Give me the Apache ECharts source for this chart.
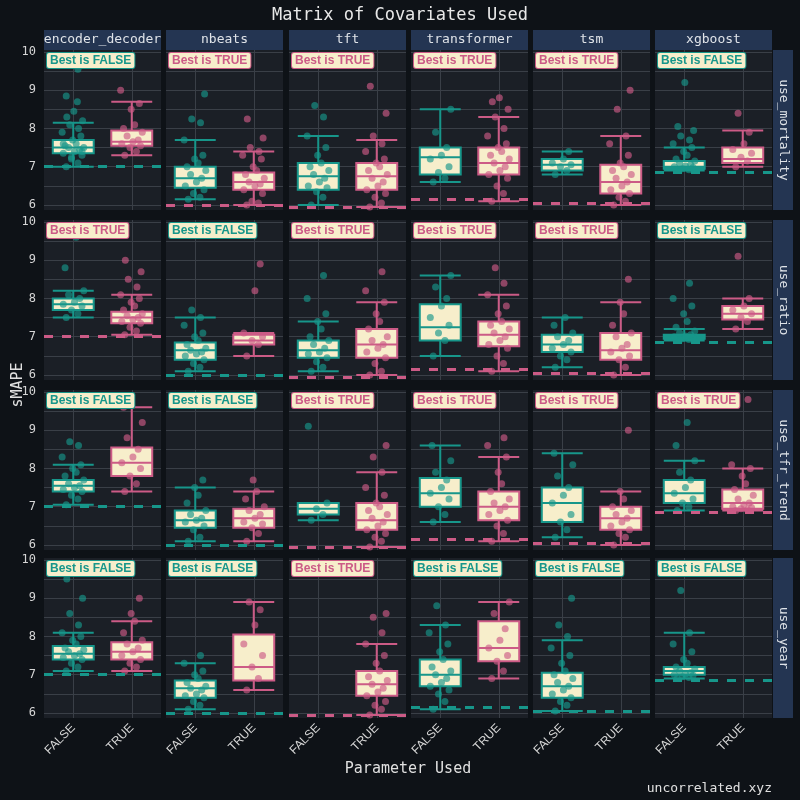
<!DOCTYPE html>
<html>
<head>
<meta charset="utf-8">
<script src="https://cdn.jsdelivr.net/npm/echarts@6/dist/echarts.min.js"></script>
<style>html,body{margin:0;background:#0e1217;}#main{width:800px;height:800px;}</style>
</head>
<body>
<div id="main"></div>
<script>
var models = ['encoder_decoder','nbeats','tft','transformer','tsm','xgboost'];
var covariates = ['use_mortality','use_ratio','use_tfr_trend','use_year'];
var groups = ['FALSE','TRUE'];
var baselines = [7.0, 6.0, 5.95, 6.15, 6.05, 6.85];
var bestIs = [
  [false,true,true,true,true,false],
  [true,false,true,true,true,false],
  [false,false,true,true,true,true],
  [false,false,true,false,false,false]
];
// box stats [min, q1, median, q3, max] for FALSE / TRUE
var boxes = [
  [[[7.0,7.35,7.5,7.7,8.15],[7.3,7.55,7.65,7.95,8.7]],
   [[6.15,6.45,6.7,7.0,7.7],[6.0,6.4,6.6,6.85,7.4]],
   [[6.0,6.4,6.75,7.1,7.8],[5.95,6.4,6.75,7.1,7.7]],
   [[6.6,6.8,7.25,7.5,8.5],[6.1,6.8,7.1,7.5,8.3]],
   [[6.8,6.9,7.05,7.2,7.4],[6.0,6.3,6.6,7.05,7.8]],
   [[6.9,6.95,7.0,7.15,7.5],[7.0,7.1,7.2,7.5,7.95]]],
  [[[7.5,7.7,7.85,8.0,8.2],[7.05,7.35,7.5,7.65,8.1]],
   [[6.1,6.4,6.65,6.85,7.5],[6.5,6.8,6.9,7.05,7.1]],
   [[6.1,6.45,6.65,6.9,7.4],[6.0,6.45,6.8,7.2,7.9]],
   [[6.5,6.9,7.25,7.85,8.6],[6.1,6.75,7.05,7.4,8.1]],
   [[6.2,6.6,6.8,7.05,7.5],[6.0,6.4,6.65,7.1,7.9]],
   [[6.9,6.95,7.0,7.05,7.2],[7.2,7.45,7.6,7.8,8.0]]],
  [[[7.05,7.4,7.55,7.7,8.1],[7.4,7.8,8.15,8.55,9.6]],
   [[6.1,6.45,6.65,6.9,7.5],[6.1,6.45,6.7,6.95,7.4]],
   [[6.65,6.8,6.95,7.1,7.1],[5.95,6.4,6.65,7.1,7.9]],
   [[6.6,7.0,7.35,7.75,8.6],[6.1,6.65,7.0,7.4,8.3]],
   [[6.2,6.6,7.1,7.5,8.4],[6.0,6.4,6.7,7.0,7.4]],
   [[6.9,7.1,7.35,7.7,8.2],[6.9,6.95,7.1,7.45,8.0]]],
  [[[7.1,7.4,7.55,7.75,8.1],[7.1,7.4,7.6,7.85,8.4]],
   [[6.1,6.4,6.65,6.85,7.3],[6.6,6.85,7.2,8.05,8.9]],
   [null,[5.95,6.45,6.75,7.1,7.8]],
   [[6.1,6.7,7.0,7.4,8.3],[6.9,7.35,7.7,8.4,8.9]],
   [[6.05,6.4,6.7,7.05,7.9],null],
   [[6.9,7.0,7.1,7.2,8.1],null]]
];
// individual runs (sMAPE) per panel, FALSE / TRUE
var points = [
  [[[7.0,7.1,7.2,7.3,7.35,7.4,7.45,7.5,7.5,7.55,7.6,7.7,7.8,7.9,8.0,8.1,8.2,8.3,8.45,8.7,8.85,9.55,7.25,7.4,7.6],[7.3,7.4,7.5,7.55,7.6,7.65,7.7,7.8,7.9,8.0,8.1,8.5,8.65,9.0]],
   [[6.15,6.2,6.3,6.4,6.5,6.6,6.7,6.8,6.9,7.0,7.1,7.2,7.3,7.7,8.15,8.25,8.9],[6.0,6.05,6.1,6.3,6.4,6.5,6.55,6.6,6.7,6.8,6.9,7.0,7.2,7.3,7.4,7.5,7.75,8.25]],
   [[6.0,6.2,6.35,6.45,6.5,6.6,6.7,6.8,6.9,7.0,7.1,7.3,7.5,7.8,8.3,8.6],[5.95,6.05,6.2,6.3,6.4,6.5,6.6,6.7,6.8,6.9,7.0,7.1,7.2,7.4,7.6,7.8,8.4,9.1]],
   [[6.6,6.7,6.85,7.0,7.2,7.3,7.5,7.9,8.5],[6.1,6.3,6.5,6.7,6.8,6.9,7.0,7.1,7.2,7.3,7.4,7.5,7.6,7.8,8.0,8.3,8.5,8.7,8.8]],
   [[6.8,6.9,7.0,7.05,7.1,7.2,7.4],[6.0,6.1,6.2,6.3,6.4,6.5,6.6,6.7,6.8,6.9,7.0,7.1,7.3,7.6,7.8,8.5,9.0,9.8]],
   [[6.9,6.92,6.95,6.98,7.0,7.02,7.05,7.1,7.15,7.2,7.3,7.4,7.5,7.6,7.7,7.8,7.95,8.05,9.2],[7.0,7.15,7.25,7.35,7.45,7.6,7.9,8.4]]],
  [[[7.5,7.6,7.7,7.8,7.85,7.9,8.0,8.1,8.2,8.8,9.6],[7.05,7.15,7.25,7.35,7.4,7.45,7.5,7.55,7.6,7.7,7.8,7.9,8.0,8.1,8.3,8.5,8.7,9.0]],
   [[6.1,6.2,6.3,6.4,6.5,6.55,6.6,6.65,6.7,6.8,6.9,7.0,7.1,7.3,7.5,7.7],[6.5,6.8,6.9,7.0,7.1,8.2,8.9]],
   [[6.1,6.2,6.35,6.45,6.55,6.6,6.7,6.8,6.9,7.0,7.2,7.4,7.6,8.0,8.6],[6.0,6.1,6.3,6.45,6.6,6.7,6.8,6.9,7.0,7.2,7.4,7.6,7.9,8.2,8.7]],
   [[6.5,6.9,7.1,7.3,7.5,7.8,8.0,8.3,8.6],[6.1,6.3,6.5,6.7,6.8,6.9,7.0,7.1,7.2,7.3,7.4,7.6,7.8,8.1,8.4,8.8]],
   [[6.2,6.4,6.5,6.6,6.7,6.8,6.9,7.0,7.1,7.3,7.5],[6.0,6.2,6.4,6.5,6.6,6.7,6.8,7.0,7.1,7.3,7.6,7.9,8.5,9.8]],
   [[6.9,6.93,6.95,6.97,7.0,7.02,7.05,7.1,7.15,7.25,7.4,7.6,7.8,8.0,8.4],[7.2,7.4,7.5,7.6,7.7,7.8,8.0,9.1]]],
  [[[7.05,7.2,7.3,7.4,7.45,7.5,7.55,7.6,7.7,7.8,7.9,8.0,8.1,8.3,8.6,8.7],[7.4,7.6,7.8,8.0,8.15,8.3,8.5,8.8,9.2,9.6]],
   [[6.1,6.2,6.4,6.5,6.6,6.65,6.7,6.8,6.9,7.1,7.3,7.5,7.7],[6.1,6.3,6.45,6.55,6.6,6.7,6.8,6.9,7.0,7.2,7.4,7.7]],
   [[6.65,6.8,6.95,7.1,9.1],[5.95,6.1,6.2,6.3,6.4,6.5,6.6,6.7,6.8,6.9,7.0,7.1,7.3,7.5,7.9,8.3,8.6]],
   [[6.6,6.8,7.0,7.2,7.35,7.5,7.7,7.9,8.2,8.6],[6.1,6.3,6.5,6.65,6.8,6.9,7.0,7.1,7.2,7.4,7.6,7.9,8.3,8.6,8.8]],
   [[6.2,6.4,6.6,6.8,7.1,7.3,7.5,7.8,8.1,8.4],[6.0,6.2,6.3,6.4,6.5,6.6,6.7,6.8,6.9,7.0,7.2,7.4,9.0]],
   [[6.9,7.0,7.1,7.2,7.35,7.5,7.7,7.9,8.2,8.6,9.2],[6.9,6.92,6.95,6.98,7.0,7.05,7.1,7.2,7.3,7.45,7.6,7.8,8.0,8.1,9.8]]],
  [[[7.1,7.2,7.3,7.4,7.45,7.5,7.55,7.6,7.65,7.7,7.8,7.9,8.0,8.1,8.3,8.6,9.0,9.5],[7.1,7.2,7.3,7.4,7.5,7.6,7.7,7.8,7.9,8.1,8.4,8.6,9.0]],
   [[6.1,6.2,6.3,6.4,6.45,6.5,6.6,6.65,6.7,6.8,6.9,7.0,7.1,7.3,7.5],[6.6,6.9,7.2,7.5,7.8,8.3,8.7,8.9]],
   [[],[5.95,6.1,6.2,6.3,6.45,6.55,6.65,6.75,6.85,6.95,7.1,7.3,7.5,7.8,8.1,8.5,8.6]],
   [[6.1,6.3,6.5,6.6,6.7,6.8,6.9,7.0,7.1,7.2,7.4,7.6,7.8,8.1,8.3,8.8],[6.9,7.1,7.35,7.5,7.7,7.9,8.2,8.6,8.9]],
   [[6.05,6.2,6.3,6.4,6.5,6.6,6.7,6.8,6.9,7.0,7.1,7.3,7.5,7.7,8.0,8.3,9.0],[]],
   [[6.9,6.93,6.95,6.98,7.0,7.02,7.05,7.1,7.15,7.2,7.3,7.4,7.6,7.8,8.1,9.2],[]]]
];
// fixed horizontal jitter pattern (in category units)
var jitter = [-0.12,0.08,-0.03,0.15,-0.17,0.02,0.11,-0.08,0.18,-0.14,0.05,-0.01,0.13,-0.19,0.09,-0.06,0.16,-0.11,0.01,0.07];

var TEAL = '#17968a', PINK = '#cc5b86', CREAM = '#f7eecb';
var lefts = [44,166,289,411,533,655], tops = [50,220,390,558];
var PW = 117, PH = 160;

var chartDom = document.getElementById('main');
var myChart = echarts.init(chartDom);
var grids = [], xAxes = [], yAxes = [], series = [], graphics = [];
var yTicks = [6,6.5,7,7.5,8,8.5,9,9.5,10];

for (var r = 0; r < 4; r++) {
  for (var c = 0; c < 6; c++) {
    var g = r*6 + c;
    grids.push({left: lefts[c], top: tops[r], width: PW, height: PH, show: true, backgroundColor: '#1b1f26', borderWidth: 0});
    xAxes.push({type: 'category', gridIndex: g, data: groups,
      axisLine: {show: false}, axisTick: {show: false}, splitLine: {show: false},
      axisLabel: {show: r == 3, rotate: 45, color: '#d6d6d6', fontSize: 12, margin: 8}});
    xAxes.push({type: 'value', gridIndex: g, min: -0.5, max: 1.5,
      axisLine: {show: false}, axisLabel: {show: false},
      axisTick: {show: false, customValues: [0,1]},
      splitLine: {show: true, lineStyle: {color: '#3a3f47', width: 1}}});
    yAxes.push({type: 'value', gridIndex: g, min: 5.87, max: 10.05,
      axisLine: {show: false},
      axisTick: {show: false, customValues: yTicks},
      axisLabel: {show: c == 0, customValues: [6,7,8,9,10], color: '#d6d6d6', fontSize: 12, fontFamily: 'DejaVu Sans Mono'},
      splitLine: {show: true, lineStyle: {color: '#3a3f47', width: 1}}});

    var bdata = [];
    for (var k = 0; k < 2; k++) {
      var b = boxes[r][c][k];
      bdata.push(b ? {value: b, itemStyle: {borderColor: k == 0 ? TEAL : PINK}} : '-');
    }
    series.push({type: 'boxplot', xAxisIndex: 2*g, yAxisIndex: g, data: bdata, boxWidth: ['70%','70%'],
      silent: true, z: 2,
      itemStyle: {color: CREAM, borderWidth: 2}});

    for (var k = 0; k < 2; k++) {
      var pts = points[r][c][k].map(function (v, i) { return [k + jitter[i % jitter.length], v]; });
      series.push({type: 'scatter', xAxisIndex: 2*g+1, yAxisIndex: g, data: pts, symbolSize: 7, z: 3,
        silent: true, itemStyle: {color: k == 0 ? TEAL : PINK, opacity: 0.65}});
    }
    var lc = bestIs[r][c] ? PINK : TEAL;
    series.push({type: 'scatter', xAxisIndex: 2*g+1, yAxisIndex: g, data: [], z: 1,
      markLine: {silent: true, symbol: 'none', label: {show: false},
        lineStyle: {color: lc, type: [9,9], width: 3}, data: [{yAxis: baselines[c]}]}});

    graphics.push({type: 'text', left: lefts[c] + 2, top: tops[r] + 2, z: 10,
      style: {text: 'Best is ' + (bestIs[r][c] ? 'TRUE' : 'FALSE'), fill: lc, font: 'bold 12px "Liberation Sans"',
        backgroundColor: CREAM, borderColor: lc, borderWidth: 1, borderRadius: 2, padding: [2,3,1,3]}});
  }
}
// strips
for (var c = 0; c < 6; c++) {
  graphics.push({type: 'rect', shape: {x: lefts[c], y: 30, width: PW, height: 20}, style: {fill: '#243552'}});
  graphics.push({type: 'text', x: lefts[c] + PW/2, y: 40, style: {text: models[c], fill: '#dfe3e8',
    font: '13px "DejaVu Sans Mono"', align: 'center', verticalAlign: 'middle'}});
}
for (var r = 0; r < 4; r++) {
  graphics.push({type: 'rect', shape: {x: 773, y: tops[r], width: 20, height: PH}, style: {fill: '#243552'}});
  graphics.push({type: 'text', x: 783, y: tops[r] + PH/2, rotation: -Math.PI/2,
    style: {text: covariates[r], fill: '#dfe3e8', font: '13px "DejaVu Sans Mono"', align: 'center', verticalAlign: 'middle'}});
}
graphics.push({type: 'text', x: 18, y: 385, rotation: Math.PI/2,
  style: {text: 'sMAPE', fill: '#e0e0e0', font: '15px "DejaVu Sans Mono"', align: 'center', verticalAlign: 'middle'}});
graphics.push({type: 'text', x: 408, y: 769,
  style: {text: 'Parameter Used', fill: '#e0e0e0', font: '15px "DejaVu Sans Mono"', align: 'center', verticalAlign: 'middle'}});
graphics.push({type: 'text', x: 772, y: 789,
  style: {text: 'uncorrelated.xyz', fill: '#e0e0e0', font: '13px "DejaVu Sans Mono"', align: 'right', verticalAlign: 'middle'}});

var option = {
  backgroundColor: '#0e1217',
  animation: false,
  title: {text: 'Matrix of Covariates Used', left: 'center', top: 2,
    textStyle: {color: '#e8e8e8', fontSize: 17, fontWeight: 'normal', fontFamily: 'DejaVu Sans Mono'}},
  grid: grids,
  xAxis: xAxes,
  yAxis: yAxes,
  series: series,
  graphic: graphics
};
myChart.setOption(option);
</script>
</body>
</html>
